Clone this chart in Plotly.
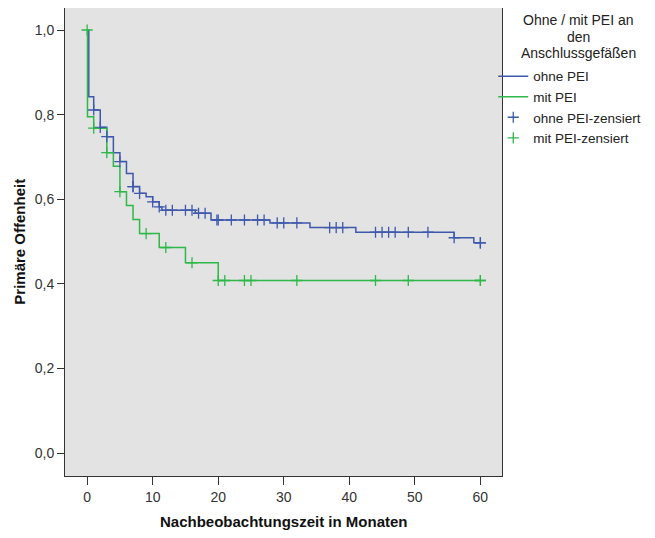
import plotly.graph_objects as go

# Kaplan-Meier step data (time in months, survival after step)
ohne_t = [0, 0.25, 1, 2, 3, 4, 5, 6, 7, 8, 9, 10, 11, 11.4, 16.5, 18.9, 27.9, 34, 41, 56, 59, 60]
ohne_s = [1.0, 0.842, 0.811, 0.770, 0.748, 0.710, 0.689, 0.661, 0.630, 0.614, 0.606, 0.594, 0.582,
          0.574, 0.567, 0.551, 0.544, 0.533, 0.522, 0.509, 0.497, 0.497]
mit_t = [0, 0.05, 1, 3, 4, 5, 6, 7, 8, 11, 15, 20, 60]
mit_s = [1.0, 0.795, 0.768, 0.710, 0.678, 0.618, 0.585, 0.552, 0.519, 0.486, 0.450, 0.408, 0.408]

# censored observations
ohne_ct = [1, 2, 3, 5, 7, 7, 8, 10, 11, 12, 13, 15, 16, 17, 18, 19.8, 20, 22, 24, 26, 27, 29, 30, 32,
           37, 38, 39, 44, 45, 46, 47, 49, 52, 56, 60, 60]
ohne_cs = [0.811, 0.770, 0.748, 0.689, 0.630, 0.630, 0.614, 0.594, 0.582, 0.574, 0.574, 0.574, 0.574,
           0.567, 0.567, 0.551, 0.551, 0.551, 0.551, 0.551, 0.551, 0.544, 0.544, 0.544,
           0.533, 0.533, 0.533, 0.522, 0.522, 0.522, 0.522, 0.522, 0.522, 0.509, 0.497, 0.497]
mit_ct = [0, 1, 3, 5, 9, 12, 16, 20, 21, 24, 25, 32, 44, 49, 60, 60]
mit_cs = [1.0, 0.768, 0.710, 0.618, 0.519, 0.486, 0.450, 0.408, 0.408, 0.408, 0.408, 0.408, 0.408,
          0.408, 0.408, 0.408]

x_ticks = [0, 10, 20, 30, 40, 50, 60]
y_ticks = [0.0, 0.2, 0.4, 0.6, 0.8, 1.0]
legend_title = ["Ohne / mit PEI an", "den", "Anschlussgefäßen"]

blue = "#3E58AC"
green = "#2EB848"
font = "Liberation Sans, Arial, sans-serif"

fig = go.Figure()
fig.add_trace(go.Scatter(x=ohne_t, y=ohne_s, mode="lines", line=dict(color=blue, width=1.5, shape="hv"),
                         name="ohne PEI"))
fig.add_trace(go.Scatter(x=mit_t, y=mit_s, mode="lines", line=dict(color=green, width=1.5, shape="hv"),
                         name="mit PEI"))
fig.add_trace(go.Scatter(x=ohne_ct, y=ohne_cs, mode="markers",
                         marker=dict(symbol="cross-thin", size=8, line=dict(color=blue, width=1.3)),
                         name="ohne PEI-zensiert"))
fig.add_trace(go.Scatter(x=mit_ct, y=mit_cs, mode="markers",
                         marker=dict(symbol="cross-thin", size=8, line=dict(color=green, width=1.3)),
                         name="mit PEI-zensiert"))

annotations = [
    dict(text="<b>Nachbeobachtungszeit in Monaten</b>", xref="paper", yref="paper",
         x=0.5, y=-0.098, xanchor="center", yanchor="middle", showarrow=False,
         font=dict(family=font, size=15, color="#111")),
    dict(text="<b>Primäre Offenheit</b>", xref="paper", yref="paper", textangle=-90,
         x=-0.106, y=0.5, xanchor="center", yanchor="middle", showarrow=False,
         font=dict(family=font, size=15, color="#111")),
]
# legend title lines, page y ~ 20, 37, 53 (plot area page top 8, height 468)
for i, line in enumerate(legend_title):
    annotations.append(dict(text=line, xref="paper", yref="paper",
                            x=1.176, y=1 - (12 + 16.5 * i) / 468, xanchor="center", yanchor="middle",
                            showarrow=False, font=dict(family=font, size=14, color="#222")))

fig.update_layout(
    width=655, height=538,
    margin=dict(l=57, r=161, t=0, b=70, autoexpand=False),
    paper_bgcolor="white", plot_bgcolor="#E3E3E3",
    separators=",.",
    font=dict(family=font, size=14, color="#222"),
    showlegend=True,
    legend=dict(
        x=0.98, xanchor="left", y=0.887, yanchor="top",
        bgcolor="rgba(0,0,0,0)",
        font=dict(family=font, size=13.5, color="#222"),
        itemwidth=30, tracegroupgap=0,
    ),
    xaxis=dict(
        range=[-3.38, 63.3], tickvals=x_ticks, ticks="outside", ticklen=8, tickcolor="#333",
        showgrid=False, zeroline=False, showline=True, linecolor="#333", linewidth=1, mirror=True,
        automargin=False, tickfont=dict(color="#333", size=14),
    ),
    yaxis=dict(
        range=[-0.054, 1.052], tickvals=y_ticks, tickformat=".1f", ticks="outside", ticklen=7,
        tickcolor="#333", showgrid=False, zeroline=False, showline=True, linecolor="#333", linewidth=1,
        mirror=True, automargin=False, tickfont=dict(color="#333", size=14),
    ),
    annotations=annotations,
)

fig.write_html("out.html")
